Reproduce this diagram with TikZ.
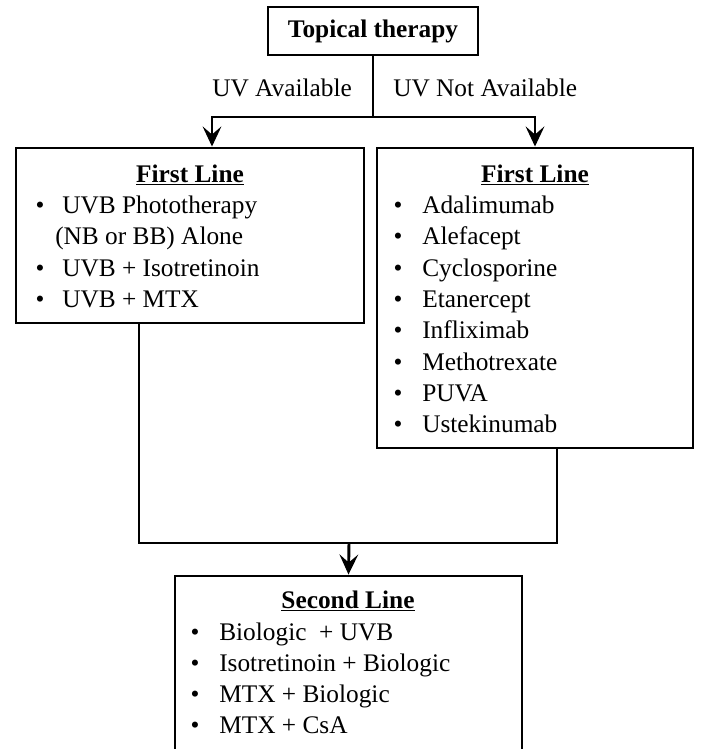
\documentclass[tikz,border=0pt]{standalone}
\usepackage{fontspec}
\setmainfont{Liberation Serif}
\usetikzlibrary{arrows.meta,calc}
\begin{document}
\begin{tikzpicture}[x=0.75pt,y=-0.75pt,
  box/.style={draw=black,line width=2.2pt,fill=white,inner sep=0pt},
  txt/.style={inner sep=0pt,anchor=base west,font=\fontsize{19}{23}\selectfont},
  ttl/.style={inner sep=0pt,anchor=base,font=\fontsize{19}{23}\selectfont\bfseries},
  bul/.style={inner sep=0pt,anchor=base,font=\fontsize{19}{23}\selectfont},
  conn/.style={line width=2.2pt},
  arr/.style={line width=2.2pt,-{Stealth[length=15pt,width=14pt,inset=6pt]}}]
\clip (0,0) rectangle (702,749);
\useasboundingbox (0,0) rectangle (702,749);
\fill[white] (0,0) rectangle (702,749);
% boxes
\node[box,minimum width=157.5pt,minimum height=36pt,font=\fontsize{19}{23}\selectfont\bfseries] (T) at (373,31) {Topical therapy};
\node[box,minimum width=261pt,minimum height=131.25pt] (L) at (190,235.5) {};
\node[box,minimum width=237pt,minimum height=225pt] (R) at (535,298) {};
\node[box,minimum width=260.25pt,minimum height=150pt] (B) at (348.5,676) {};
% connectors
\coordinate (j) at (373,117);
\coordinate (jl) at (212,117);
\draw[conn] (T.south) -- (j);
\draw[arr] (j) -- (jl) -- (jl |- L.north);
\draw[arr] (j) -| (R.north);
\path (L.south) ++(-51,0) coordinate (lb);
\path (R.south) ++(22,0) coordinate (rb);
\coordinate (m) at (349,543);
\draw[conn] (lb) |- (m) -| (rb);
\draw[arr] (m) -- (B.north);
% labels
\node[txt] (uva) at (212,97) {UV Available};
\node[txt] (uvna) at (393,97) {UV Not Available};
% left box
\node[ttl] (lt) at (190,182) {\underline{First Line}};
\node[bul] (lb1) at (40,213.5) {•};
\node[txt] (l1) at (62,213.5) {UVB Phototherapy};
\node[txt] (l1b) at (55,244.8) {(NB or BB) Alone};
\node[bul] (lb2) at (40,276.1) {•};
\node[txt] (l2) at (62,276.1) {UVB + Isotretinoin};
\node[bul] (lb3) at (40,307.4) {•};
\node[txt] (l3) at (62,307.4) {UVB + MTX};
% right box
\node[ttl] (rt) at (535,182) {\underline{First Line}};
\foreach \t [count=\i from 0] in {Adalimumab,Alefacept,Cyclosporine,Etanercept,Infliximab,Methotrexate,PUVA,Ustekinumab}{
  \node[bul] (rb\i) at (398,213.5+31.3*\i) {•};
  \node[txt] (r\i) at (422,213.5+31.3*\i) {\t};
}
% bottom box
\node[ttl] (bt) at (348,608) {\underline{Second Line}};
\node[bul] (bb1) at (195,640) {•};
\node[txt] (b1) at (219,640) {Biologic \ + UVB};
\node[bul] (bb2) at (195,671) {•};
\node[txt] (b2) at (219,671) {Isotretinoin + Biologic};
\node[bul] (bb3) at (195,702) {•};
\node[txt] (b3) at (219,702) {MTX + Biologic};
\node[bul] (bb4) at (195,733) {•};
\node[txt] (b4) at (219,733) {MTX + CsA};
\end{tikzpicture}
\end{document}
